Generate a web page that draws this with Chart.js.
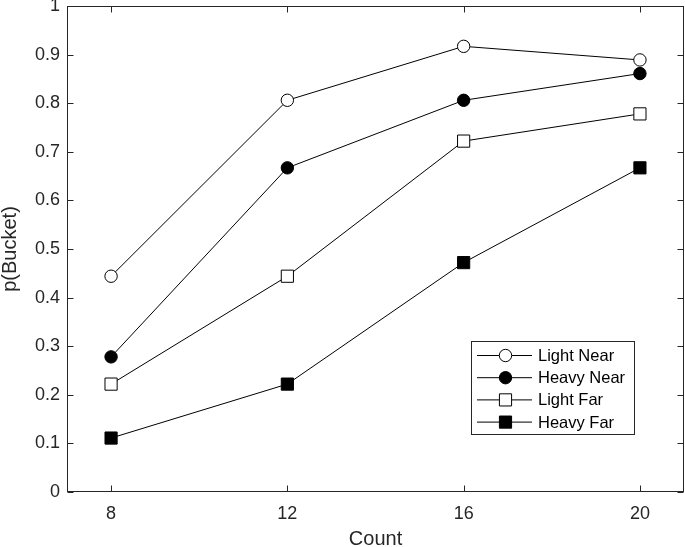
<!DOCTYPE html>
<html>
<head>
<meta charset="utf-8">
<script src="https://cdn.jsdelivr.net/npm/chart.js@4/dist/chart.umd.min.js"></script>
<style>
html,body{margin:0;padding:0;background:#fff;}
#wrap{width:685px;height:547px;}
</style>
</head>
<body>
<div id="wrap"><canvas id="c" width="685" height="547"></canvas></div>
<script>
// ---- data ----
const counts = [8, 12, 16, 20];
const xTickValues = [8, 12, 16, 20];
const yTickLabels = ['0','0.1','0.2','0.3','0.4','0.5','0.6','0.7','0.8','0.9','1'];
const lightNear = [0.444, 0.806, 0.917, 0.889];
const heavyNear = [0.278, 0.667, 0.806, 0.861];
const lightFar  = [0.222, 0.444, 0.722, 0.778];
const heavyFar  = [0.111, 0.222, 0.472, 0.667];
const seriesNames = ['Light Near', 'Heavy Near', 'Light Far', 'Heavy Far'];
const xTitle = 'Count';
const yTitle = 'p(Bucket)';

const AX = '#262626';
Chart.defaults.font.family = "'Liberation Sans', Arial, Helvetica, sans-serif";

function pts(vals){ return counts.map((c,i)=>({x:c, y:vals[i]})); }
function ds(label, vals, style, filled){
  return {
    label: label,
    data: pts(vals),
    borderColor: '#000',
    borderWidth: 1,
    pointStyle: style,
    pointRadius: style === 'rect' ? 8.6 : 6.2,
    pointHoverRadius: style === 'rect' ? 8.6 : 6.2,
    pointBackgroundColor: filled ? '#000' : '#fff',
    pointBorderColor: '#000',
    pointBorderWidth: 1,
    tension: 0,
    fill: false,
    clip: false
  };
}
function noPad(scale){
  scale.paddingLeft = 0; scale.paddingRight = 0;
  scale.paddingTop = 0; scale.paddingBottom = 0;
}

const framePlugin = {
  id: 'frame',
  afterDraw(chart){
    const ctx = chart.ctx, a = chart.chartArea;
    const xs = chart.scales.x, ys = chart.scales.y;
    ctx.save();
    ctx.strokeStyle = AX;
    ctx.lineWidth = 1;
    const L = Math.round(a.left)+0.5, R = Math.round(a.right)-0.5, T = Math.round(a.top)+0.5, B = Math.round(a.bottom)-0.5;
    ctx.strokeRect(L, T, R-L, B-T);
    const tl = 6;
    ctx.beginPath();
    xs.ticks.forEach(t=>{
      const px = Math.round(xs.getPixelForValue(t.value))+0.5;
      ctx.moveTo(px, B); ctx.lineTo(px, B-tl);
      ctx.moveTo(px, T); ctx.lineTo(px, T+tl);
    });
    ys.ticks.forEach(t=>{
      const py = Math.round(ys.getPixelForValue(t.value))+0.5;
      ctx.moveTo(L, py); ctx.lineTo(L+tl, py);
      ctx.moveTo(R, py); ctx.lineTo(R-tl, py);
    });
    ctx.stroke();

    // legend
    const box = {l:471.5, t:341.5, r:634.5, b:434.5};
    ctx.fillStyle = '#fff';
    ctx.fillRect(box.l, box.t, box.r-box.l, box.b-box.t);
    ctx.strokeStyle = AX;
    ctx.strokeRect(box.l, box.t, box.r-box.l, box.b-box.t);
    ctx.font = "16.5px 'Liberation Sans', Arial, sans-serif";
    ctx.textBaseline = 'middle';
    ctx.textAlign = 'left';
    chart.data.datasets.forEach((d,i)=>{
      const y = 355.5 + i*22.2;
      ctx.strokeStyle = '#000';
      ctx.lineWidth = 1;
      ctx.beginPath(); ctx.moveTo(477, y); ctx.lineTo(532, y); ctx.stroke();
      ctx.fillStyle = d.pointBackgroundColor;
      ctx.strokeStyle = d.pointBorderColor;
      Chart.helpers.drawPoint(ctx, {pointStyle: d.pointStyle, rotation: 0, borderWidth: 1, radius: d.pointRadius}, 505.5, y);
      ctx.fillStyle = '#000';
      ctx.fillText(d.label, 538, y+1);
    });
    ctx.restore();
  }
};

new Chart(document.getElementById('c'), {
  type: 'line',
  data: {
    datasets: [
      ds(seriesNames[0], lightNear, 'circle', false),
      ds(seriesNames[1], heavyNear, 'circle', true),
      ds(seriesNames[2], lightFar, 'rect', false),
      ds(seriesNames[3], heavyFar, 'rect', true)
    ]
  },
  options: {
    responsive: false,
    devicePixelRatio: 1,
    animation: false,
    events: [],
    layout: { autoPadding: false, padding: { top: 6, right: 1, left: 0, bottom: 0 } },
    plugins: { legend: { display: false }, tooltip: { enabled: false } },
    scales: {
      x: {
        type: 'linear',
        min: 7, max: 21,
        afterBuildTicks(scale){ scale.ticks = xTickValues.map(v=>({value:v})); },
        afterFit(scale){ scale.height = 55; noPad(scale); },
        grid: { display: false, drawTicks: false },
        border: { display: false },
        ticks: { font: { size: 18 }, color: AX, padding: 11, maxRotation: 0, autoSkip: false,
                 callback: v => String(v) },
        title: { display: true, text: xTitle, font: { size: 20, lineHeight: 1 }, color: AX, padding: { top: 0, bottom: -2 } }
      },
      y: {
        min: 0, max: 1,
        afterBuildTicks(scale){ scale.ticks = yTickLabels.map(s=>({value: parseFloat(s)})); },
        afterFit(scale){ scale.width = 67; noPad(scale); },
        grid: { display: false, drawTicks: false },
        border: { display: false },
        ticks: { font: { size: 18 }, color: AX, padding: 7, autoSkip: false,
                 callback: (v, i) => yTickLabels[i] },
        title: { display: true, text: yTitle, font: { size: 20, lineHeight: 1 }, color: AX, padding: { top: 0, bottom: 0 } }
      }
    }
  },
  plugins: [framePlugin]
});
</script>
</body>
</html>
